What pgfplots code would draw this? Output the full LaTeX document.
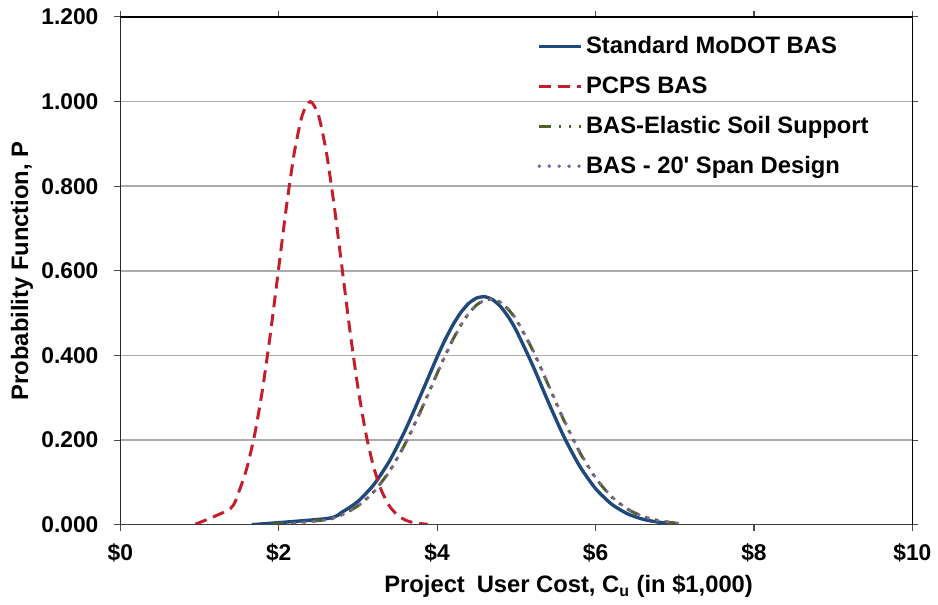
\documentclass[border=0pt]{standalone}
\usepackage{fontspec}
\setmainfont{Liberation Sans}
\usepackage{pgfplots}
\pgfplotsset{compat=1.18}
\definecolor{modot}{RGB}{31,73,125}
\definecolor{pcps}{RGB}{196,30,44}
\definecolor{elastic}{RGB}{79,98,40}
\definecolor{span}{RGB}{128,100,162}
\begin{document}
\begin{tikzpicture}
\begin{axis}[
  scale only axis, width=398.5bp, height=255.5bp,
  xmin=0, xmax=10, ymin=0, ymax=1.2,
  xtick={0,2,4,6,8,10}, xticklabels={\$0,\$2,\$4,\$6,\$8,\$10},
  ytick={0,0.2,0.4,0.6,0.8,1,1.2},
  /pgf/number format/assume math mode=true,
  yticklabel style={/pgf/number format/fixed, /pgf/number format/fixed zerofill, /pgf/number format/precision=3, xshift=-4.5bp},
  xticklabel style={yshift=-3bp},
  ticklabel style={font=\fontsize{11.5}{13}\selectfont\bfseries},
  ymajorgrids, grid style={color=gray!65, line width=0.7bp},
  tick align=outside, major tick length=3bp,
  tick style={color=gray!60!black, line width=0.6bp},
  axis line style={black, line width=0.7bp},
  xlabel={Project\enspace User Cost, C\textsubscript{u} (in \$1,000)},
  ylabel={Probability Function, P},
  label style={font=\fontsize{12}{14}\selectfont\bfseries},
  xlabel style={at={(axis description cs:0.566,-0.121)}, anchor=center},
  ylabel style={at={(axis description cs:-0.124,0.5)}, anchor=center, rotate=0},
  legend style={at={(axis description cs:0.526,0.968)}, anchor=north west,
    draw=none, fill=none, font=\fontsize{12}{14}\selectfont\bfseries,
    row sep=7bp, inner sep=0pt, nodes={inner sep=1.5bp}},
  legend cell align=left,
  legend image code/.code={\draw[#1] (0bp,0bp) -- (21bp,0bp);},
]
\coordinate (sw) at (rel axis cs:0,0);
\coordinate (ne) at (rel axis cs:1,1);

\addplot[modot, line width=1.7bp, smooth, tension=0.4] coordinates {
(1.66,0.0002) (2.62,0.0150) (2.8,0.0299) (3.0,0.0551) (3.2,0.0947)
(3.4,0.1511) (3.6,0.2243) (3.8,0.3093) (4.0,0.3964) (4.1,0.4368) (4.2,0.4724)
(4.3,0.5018) (4.4,0.5233) (4.5,0.5359) (4.6,0.5388) (4.7,0.5320) (4.8,0.5157)
(4.9,0.4909) (5.0,0.4588) (5.2,0.3795)
(5.4,0.2917) (5.6,0.2084) (5.8,0.1385) (6.0,0.0855) (6.2,0.0491)
(6.4,0.0262) (6.6,0.0130) (6.8,0.0060) (7.0,0.0026)};
\addlegendentry{Standard MoDOT BAS}

\addplot[pcps, line width=1.5bp, dash pattern=on 6bp off 3.5bp, smooth, tension=0.4] coordinates {
(0.95,0.0014) (1.39,0.0380) (1.5,0.0796) (1.6,0.1353) (1.7,0.2163)
(1.8,0.3247) (1.9,0.4578) (2.0,0.6065) (2.1,0.7548) (2.2,0.8825)
(2.3,0.9692) (2.4,1.0000) (2.5,0.9692) (2.6,0.8825) (2.7,0.7548)
(2.8,0.6065) (2.9,0.4578) (3.0,0.3247) (3.1,0.2163) (3.2,0.1353)
(3.3,0.0796) (3.4,0.0439) (3.5,0.0228) (3.6,0.0111) (3.7,0.0051)
(3.88,0.0010)};
\addlegendentry{PCPS BAS}

\addplot[elastic, line width=1.5bp, dash pattern=on 6bp off 4bp on 1bp off 4bp on 1bp off 4bp, smooth, tension=0.4] coordinates {
(1.91,0.0010) (2.6,0.0118) (2.8,0.0238) (3.0,0.0447) (3.2,0.0781)
(3.4,0.1271) (3.6,0.1926) (3.8,0.2720) (4.0,0.3576) (4.1,0.3993) (4.2,0.4380)
(4.3,0.4719) (4.4,0.4996) (4.5,0.5195) (4.6,0.5307) (4.7,0.5325) (4.8,0.5250)
(4.9,0.5085) (5.0,0.4838) (5.2,0.4152)
(5.4,0.3319) (5.6,0.2471) (5.8,0.1713) (6.0,0.1107) (6.2,0.0665)
(6.4,0.0373) (6.6,0.0194) (6.8,0.0095) (7.0,0.0043) (7.1,0.0030)};
\addlegendentry{BAS-Elastic Soil Support}

\addplot[span, line width=2bp, line cap=round, dash pattern=on 0bp off 5bp, smooth, tension=0.4] coordinates {
(2.2,0.0030) (2.6,0.0115) (2.8,0.0235) (3.0,0.0442) (3.2,0.0775)
(3.4,0.1262) (3.6,0.1915) (3.8,0.2710) (4.0,0.3565) (4.1,0.3983) (4.2,0.4372)
(4.3,0.4712) (4.4,0.4990) (4.5,0.5192) (4.6,0.5305) (4.7,0.5328) (4.8,0.5255)
(4.9,0.5093) (5.0,0.4848) (5.2,0.4165)
(5.4,0.3332) (5.6,0.2484) (5.8,0.1724) (6.0,0.1115) (6.2,0.0671)
(6.4,0.0377) (6.6,0.0196) (6.8,0.0096) (7.05,0.0035)};
\addlegendentry{BAS - 20\textquotesingle\ Span Design}

\draw[color=gray!50!black, line width=1bp] (rel axis cs:0,1) -- (rel axis cs:0,0) -- (rel axis cs:1,0);
\end{axis}
\path ([shift={(-60.5bp,-38.5bp)}]sw) rectangle ([shift={(10bp,8.5bp)}]ne);
\end{tikzpicture}
\end{document}
